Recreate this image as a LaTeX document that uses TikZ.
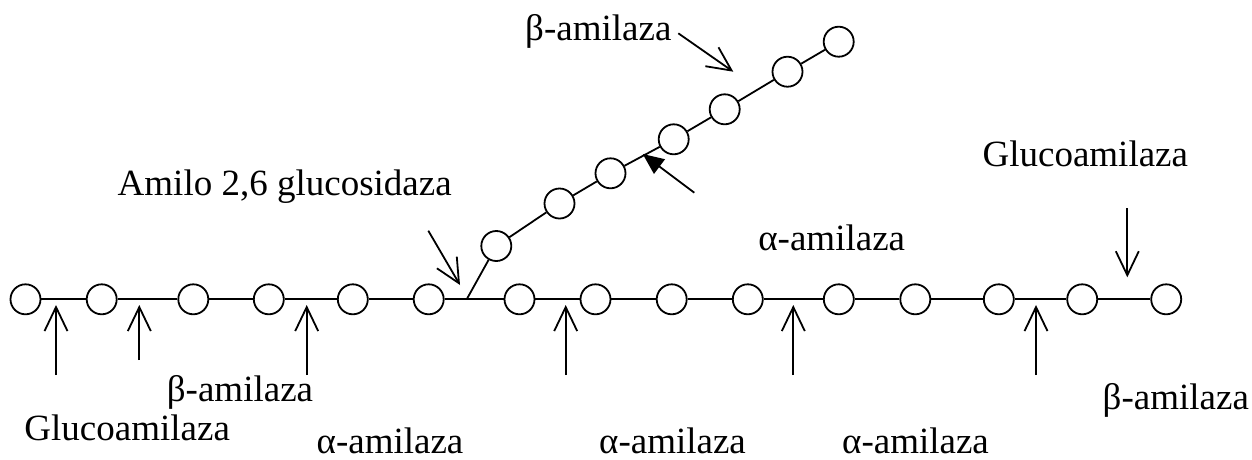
\documentclass[tikz,border=0pt]{standalone}
\usepackage{fontspec}
\setmainfont{Liberation Serif}
\usetikzlibrary{arrows.meta}
\begin{document}
\begin{tikzpicture}[x=1pt,y=-1pt,
  unit/.style={circle,draw,line width=1.8pt,minimum size=30pt,inner sep=0pt,fill=white},
  bond/.style={line width=1.8pt},
  enz/.style={line width=1.8pt,-{Straight Barb[length=24pt,width=23pt]}},
  enzf/.style={line width=1.8pt,-{Triangle[length=21pt,width=18pt]}},
  lbl/.style={font=\fontsize{37}{40}\selectfont,inner sep=0pt,anchor=base}]
\useasboundingbox (0,0) rectangle (1252,459);
% main chain
\foreach \i/\x in {1/25.5,2/101.7,3/193.3,4/268.8,5/352.8,6/428.7,7/519.5,8/595.5,9/671.7,10/747.8,11/838.8,12/915.3,13/998.8,14/1082.2,15/1166.2}
  \node[unit] (m\i) at (\x,299.3) {};
\coordinate (J) at (466.7,299.3);
% branch
\node[unit] (b1) at (496.3,246) {};
\node[unit] (b2) at (559.5,203.5) {};
\node[unit] (b3) at (610.5,173.3) {};
\node[unit] (b4) at (673.7,139.3) {};
\node[unit] (b5) at (724.7,109.3) {};
\node[unit] (b6) at (787.5,71.7) {};
\node[unit] (b7) at (838.7,41.7) {};
\draw[bond] (m1)--(m2)--(m3)--(m4)--(m5)--(m6)--(J)--(m7)--(m8)--(m9)--(m10)--(m11)--(m12)--(m13)--(m14)--(m15);
\draw[bond] (J)--(b1)--(b2)--(b3)--(b4)--(b5)--(b6)--(b7);
% upward arrows
\foreach \n/\x/\t in {1/56/375,2/139.3/360,3/306.7/375,4/565.7/375,5/793.3/375,6/1036/375}{
  \coordinate (ut\n) at (\x,\t);
  \coordinate (uh\n) at (\x,305);
  \draw[enz] (ut\n)--(uh\n);
}
% downward arrow (glucoamilaza)
\coordinate (dt) at (1127.3,208.3);
\coordinate (dh) at (1127.3,277.3);
\draw[enz] (dt)--(dh);
% amilo arrow
\coordinate (at) at (428.3,230.7);
\coordinate (ah) at (460,285);
\draw[enz] (at)--(ah);
% beta top arrow
\coordinate (bt) at (678.3,33.3);
\coordinate (bh) at (733.3,71.7);
\draw[enz] (bt)--(bh);
% filled arrow
\coordinate (ft) at (694.3,192.7);
\coordinate (fh) at (642.7,154);
\draw[enzf] (ft)--(fh);
% labels
\node[lbl] (l1) at (598.3,40) {β-amilaza};
\node[lbl] (l2) at (284.7,195.7) {Amilo 2,6 glucosidaza};
\node[lbl] (l3) at (1085.3,166.7) {Glucoamilaza};
\node[lbl] (l4) at (831.7,250) {α-amilaza};
\node[lbl] (l5) at (240,401.7) {β-amilaza};
\node[lbl] (l6) at (127.2,440) {Glucoamilaza};
\node[lbl] (l7) at (390,453) {α-amilaza};
\node[lbl] (l8) at (672.5,453) {α-amilaza};
\node[lbl] (l9) at (915.5,453) {α-amilaza};
\node[lbl] (l10) at (1175.8,409.3) {β-amilaza};
\end{tikzpicture}
\end{document}
